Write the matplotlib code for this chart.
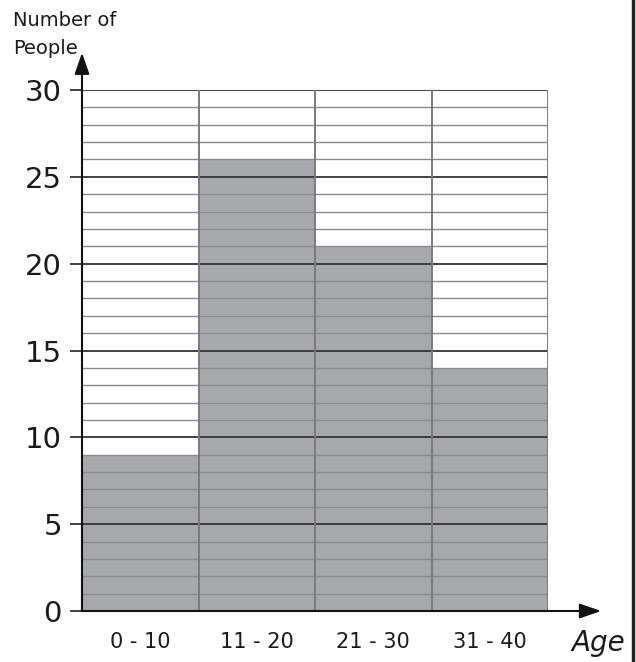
import matplotlib.pyplot as plt

# data
age_groups = ['0 - 10', '11 - 20', '21 - 30', '31 - 40']
people = [9, 26, 21, 14]
y_ticks = [0, 5, 10, 15, 20, 25, 30]

plt.rcParams['font.family'] = ['DejaVu Sans']

fig = plt.figure(figsize=(6.36, 6.62), dpi=100)
ax = fig.add_axes([82 / 636, 51 / 662, 466 / 636, 521 / 662])

xs = [i + 0.5 for i in range(len(people))]
ax.bar(xs, people, width=1.0, color='#a7a8ab', edgecolor='none', zorder=1)

# grid: thin every unit, dark every 5
for v in range(1, 31):
    if v % 5 == 0:
        ax.axhline(v, color='#333333', lw=1.3, zorder=2)
    else:
        ax.axhline(v, color='#8a8a8a', lw=1.0, zorder=2)
for b in range(1, len(people) + 1):
    ax.axvline(b, color='#7a7a7a', lw=1.4, zorder=2)

ax.set_xlim(0, len(people))
ax.set_ylim(0, 30)

for s in ['top', 'right']:
    ax.spines[s].set_visible(False)
for s in ['left', 'bottom']:
    ax.spines[s].set_color('#111111')
    ax.spines[s].set_linewidth(1.5)
    ax.spines[s].set_zorder(3)

ax.set_yticks(y_ticks)
ax.set_yticklabels([str(t) for t in y_ticks], fontsize=21, color='#1a1a1a')
ax.tick_params(axis='y', length=8.5, width=1.3, color='#333333', pad=6)
ax.set_xticks(xs)
ax.set_xticklabels(age_groups, fontsize=15, color='#1a1a1a')
ax.tick_params(axis='x', length=0, pad=15)

# axis arrows
ax.annotate('', xy=(0, 1.077), xycoords='axes fraction', xytext=(0, 0.99),
            arrowprops=dict(arrowstyle='-|>,head_width=0.45,head_length=1.3',
                            color='#111111', lw=1.5), annotation_clip=False)
ax.annotate('', xy=(1.12, 0), xycoords='axes fraction', xytext=(0.99, 0),
            arrowprops=dict(arrowstyle='-|>,head_width=0.45,head_length=1.3',
                            color='#111111', lw=1.5), annotation_clip=False)

fig.text(13 / 636, 1 - 20 / 662, 'Number of', fontsize=14, color='#1a1a1a',
         ha='left', va='center')
fig.text(13 / 636, 1 - 49 / 662, 'People', fontsize=14, color='#1a1a1a',
         ha='left', va='center')
fig.text(598 / 636, 1 - 643 / 662, 'Age', fontsize=20, color='#1a1a1a',
         ha='center', va='center', style='italic')

# right border line
fig.add_artist(plt.Line2D([633 / 636, 633 / 636], [0, 1], color='#222222', lw=2.5))

fig.savefig('out.png', dpi=100)
